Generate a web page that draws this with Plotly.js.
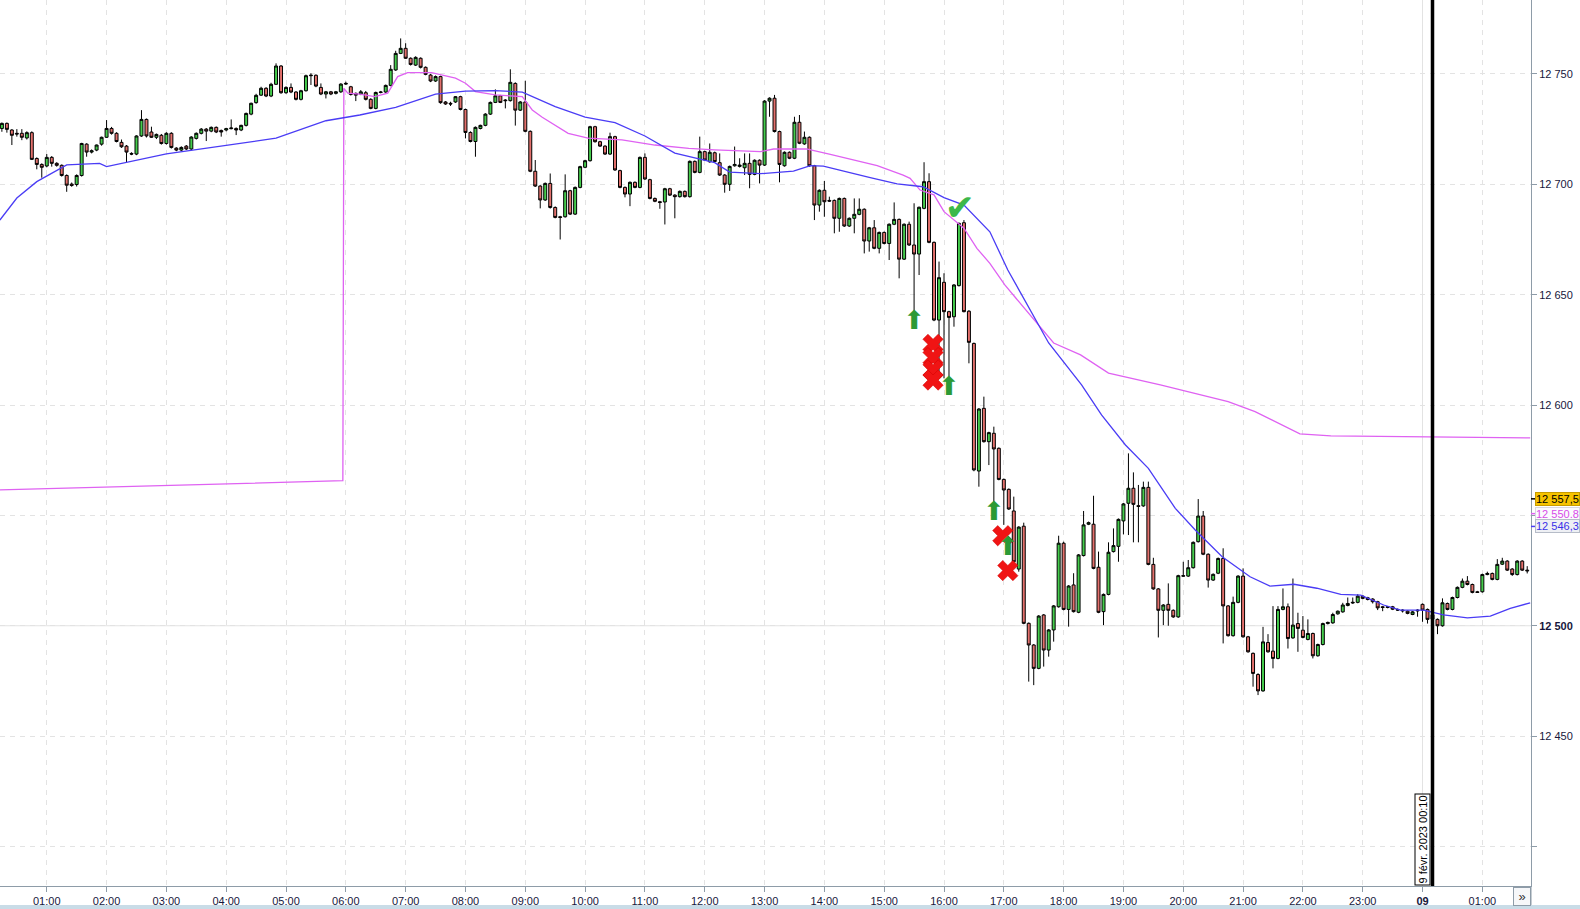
<!DOCTYPE html>
<html>
<head>
<meta charset="utf-8">
<script src="https://cdn.plot.ly/plotly-3.0.1.min.js"></script>
<style>
  html, body { margin: 0; padding: 0; background: #fff; }
  #chart { width: 1580px; height: 909px; }
</style>
</head>
<body>
<div id="chart"></div>
<script>
// 5-minute bars from 8 Feb 2023 00:15, one row per bar: [open, high, low, close]
const barStart = "2023-02-08T00:15:00Z";
const barStepMin = 5;
const bars = [
  // 00:15
  [12725.3,12728.0,12723.8,12727.6],[12727.6,12728.0,12723.4,12724.9],[12724.6,12725.0,12717.8,12722.2],
  [12723.1,12725.0,12721.6,12722.8],[12723.1,12725.0,12720.0,12721.3],[12721.0,12724.0,12720.3,12723.4],
  [12723.4,12724.0,12711.0,12711.3],[12711.7,12712.2,12706.8,12709.0],[12709.0,12709.5,12703.0,12707.7],
  [12708.3,12713.7,12707.7,12712.2],[12712.2,12712.8,12708.0,12709.5],[12709.5,12710.0,12708.0,12708.6],
  // 01:15
  [12708.6,12709.0,12703.5,12704.0],[12704.0,12704.5,12696.6,12699.6],[12700.1,12700.8,12698.9,12699.5],
  [12699.9,12704.5,12699.0,12704.0],[12704.0,12718.8,12703.5,12718.5],[12718.2,12718.6,12712.5,12714.6],
  [12714.6,12715.8,12714.0,12715.2],[12715.5,12718.0,12715.0,12717.8],[12718.2,12721.6,12717.5,12721.3],
  [12721.3,12729.1,12721.0,12725.3],[12725.3,12726.0,12722.5,12723.1],[12723.1,12723.6,12719.0,12719.4],
  // 02:15
  [12719.0,12720.3,12716.5,12717.0],[12717.3,12717.8,12709.9,12714.6],[12714.0,12714.5,12713.2,12713.7],
  [12713.7,12722.2,12713.2,12721.9],[12721.9,12733.6,12721.5,12729.4],[12729.4,12729.8,12721.2,12721.9],
  [12723.7,12726.1,12721.0,12721.3],[12721.3,12723.0,12720.5,12722.6],[12722.2,12722.8,12718.0,12718.5],
  [12718.5,12723.6,12718.0,12723.1],[12723.1,12723.6,12716.2,12716.7],[12716.4,12716.8,12715.0,12715.5],
  // 03:15
  [12715.5,12717.2,12715.0,12716.7],[12717.3,12717.8,12715.5,12716.0],[12716.0,12721.8,12715.5,12721.4],
  [12720.8,12723.5,12720.3,12723.1],[12723.1,12725.5,12722.6,12725.0],[12725.0,12725.5,12719.6,12724.1],
  [12724.1,12726.2,12723.6,12725.8],[12725.8,12726.2,12723.2,12723.7],[12724.4,12724.8,12721.6,12723.7],
  [12724.6,12725.6,12724.0,12725.2],[12725.2,12729.4,12724.9,12725.5],[12725.3,12725.8,12722.3,12724.6],
  // 04:15
  [12724.6,12727.0,12724.1,12726.7],[12726.7,12732.5,12726.2,12732.1],[12731.8,12737.0,12731.3,12736.7],
  [12737.0,12741.0,12736.5,12740.3],[12740.4,12744.2,12740.0,12743.5],[12743.5,12744.0,12739.5,12740.0],
  [12740.0,12746.0,12739.5,12745.3],[12745.3,12754.8,12745.0,12753.6],[12753.6,12754.0,12741.0,12741.5],
  [12741.5,12744.4,12741.0,12743.9],[12743.9,12745.7,12741.3,12741.8],[12741.8,12742.2,12738.0,12738.5],
  // 05:15
  [12738.5,12742.8,12738.0,12742.4],[12742.4,12749.7,12742.0,12749.2],[12749.2,12750.3,12745.0,12749.4],
  [12749.4,12749.8,12744.0,12744.5],[12743.9,12745.7,12740.4,12740.9],[12740.9,12742.3,12738.9,12741.9],
  [12741.9,12742.3,12740.4,12740.9],[12741.2,12742.3,12740.7,12741.9],[12741.9,12745.8,12741.4,12745.4],
  [12745.4,12746.5,12745.0,12745.7],[12744.2,12744.6,12740.2,12740.7],[12741.2,12741.6,12737.7,12740.4],
  // 06:15
  [12740.9,12742.7,12740.4,12741.9],[12741.5,12742.3,12738.0,12738.5],[12738.5,12739.0,12734.0,12734.4],
  [12734.4,12742.0,12734.0,12741.6],[12741.6,12742.3,12741.2,12741.8],[12741.8,12745.2,12741.4,12744.8],
  [12744.8,12754.0,12744.4,12752.1],[12751.8,12760.5,12751.4,12759.3],[12759.3,12766.1,12759.0,12761.6],
  [12761.6,12763.9,12756.8,12757.1],[12757.1,12757.5,12753.8,12754.3],[12754.0,12758.0,12753.6,12757.5],
  // 07:15
  [12757.1,12757.5,12752.5,12753.0],[12753.0,12753.4,12749.4,12749.8],[12749.5,12750.0,12746.3,12746.8],
  [12746.8,12749.3,12746.4,12748.8],[12748.8,12749.2,12736.5,12737.0],[12737.3,12737.7,12736.0,12736.4],
  [12736.7,12737.4,12735.5,12736.4],[12737.3,12740.0,12736.9,12739.7],[12739.7,12740.1,12733.5,12733.9],
  [12733.9,12734.3,12720.8,12723.5],[12723.5,12724.0,12719.0,12719.4],[12719.4,12726.2,12712.5,12725.8],
  // 08:15
  [12725.3,12727.0,12724.9,12726.7],[12726.7,12732.2,12726.3,12731.8],[12731.8,12737.5,12731.4,12737.1],
  [12737.1,12743.0,12736.8,12740.1],[12740.1,12740.5,12736.8,12737.1],[12738.2,12738.6,12734.4,12737.9],
  [12737.9,12752.1,12737.5,12746.2],[12745.7,12746.2,12726.6,12733.6],[12733.6,12737.7,12733.2,12737.3],
  [12737.3,12746.9,12723.6,12724.0],[12724.0,12724.4,12705.5,12705.9],[12705.9,12711.0,12698.8,12699.2],
  // 09:15
  [12699.2,12699.6,12689.1,12692.9],[12692.9,12700.8,12692.5,12700.4],[12700.4,12704.9,12689.0,12689.5],
  [12689.5,12690.0,12684.6,12685.0],[12685.3,12685.7,12675.0,12685.0],[12685.3,12704.5,12684.9,12697.1],
  [12697.1,12697.5,12686.1,12686.5],[12686.5,12699.0,12686.1,12698.6],[12698.6,12708.4,12698.2,12708.0],
  [12707.7,12711.1,12707.3,12710.7],[12710.7,12726.5,12710.3,12726.1],[12726.1,12726.5,12718.9,12719.3],
  // 10:15
  [12719.3,12719.7,12716.9,12717.3],[12717.3,12717.7,12713.3,12713.7],[12713.7,12723.4,12713.3,12721.6],
  [12721.6,12722.0,12706.1,12706.5],[12706.2,12706.6,12698.2,12698.6],[12698.6,12699.0,12694.1,12695.6],
  [12695.6,12701.3,12690.1,12700.9],[12700.9,12701.3,12698.2,12698.6],[12698.6,12712.6,12698.2,12712.2],
  [12712.2,12714.0,12702.0,12702.4],[12702.1,12702.5,12693.2,12693.6],[12693.6,12694.0,12691.9,12692.3],
  // 11:15
  [12692.1,12692.5,12688.9,12691.8],[12692.0,12698.4,12681.8,12698.0],[12698.0,12698.4,12694.7,12695.1],
  [12695.1,12695.5,12684.6,12694.4],[12694.4,12697.2,12694.0,12696.8],[12696.8,12697.2,12694.0,12694.4],
  [12694.4,12710.8,12694.0,12710.4],[12710.4,12710.8,12705.0,12705.4],[12705.4,12721.6,12705.0,12714.8],
  [12714.8,12715.2,12710.7,12711.0],[12710.2,12718.5,12709.8,12714.5],[12714.3,12714.8,12709.9,12710.3],
  // 12:15
  [12709.8,12714.0,12703.8,12704.2],[12704.2,12704.6,12696.2,12700.0],[12700.0,12708.5,12697.0,12708.1],
  [12708.4,12717.1,12708.0,12709.0],[12708.1,12711.8,12707.6,12708.7],[12707.5,12714.0,12704.2,12709.5],
  [12709.5,12714.0,12698.2,12704.5],[12704.5,12711.3,12704.1,12710.9],[12710.9,12711.3,12700.4,12708.7],
  [12708.7,12738.1,12708.3,12737.7],[12737.7,12739.4,12730.6,12739.0],[12739.0,12740.5,12723.5,12723.9],
  // 13:15
  [12723.9,12724.3,12700.9,12709.0],[12708.4,12714.9,12708.0,12714.5],[12714.5,12714.9,12711.4,12711.8],
  [12711.8,12730.6,12711.4,12728.1],[12728.1,12731.4,12718.2,12718.6],[12718.3,12723.9,12717.9,12721.3],
  [12721.3,12721.7,12708.0,12708.4],[12708.4,12708.8,12683.8,12690.6],[12690.6,12697.7,12687.6,12697.3],
  [12697.3,12701.5,12685.3,12692.1],[12692.7,12694.4,12692.0,12692.4],[12692.7,12693.1,12677.8,12684.6],
  // 14:15
  [12684.6,12694.0,12678.5,12693.6],[12693.6,12694.0,12680.7,12681.1],[12681.1,12685.0,12680.7,12684.6],
  [12684.6,12693.6,12677.8,12686.4],[12686.4,12693.6,12686.0,12688.7],[12688.7,12689.1,12668.7,12674.3],
  [12674.3,12680.7,12669.5,12680.3],[12680.3,12683.8,12670.6,12671.0],[12671.0,12678.6,12668.7,12678.2],
  [12678.2,12678.6,12672.8,12673.2],[12673.2,12682.3,12665.7,12681.9],[12681.9,12691.8,12681.5,12684.1],
  // 15:15
  [12684.1,12684.5,12657.4,12666.1],[12666.1,12682.3,12665.7,12681.9],[12681.9,12683.1,12672.1,12672.5],
  [12672.5,12691.4,12641.5,12668.4],[12668.4,12689.9,12658.9,12689.6],[12689.1,12710.0,12688.7,12701.2],
  [12701.2,12705.0,12673.3,12673.7],[12673.7,12674.1,12638.0,12638.5],[12638.5,12665.0,12615.1,12657.7],
  [12655.6,12659.7,12612.1,12642.3],[12642.3,12642.7,12612.8,12639.7],[12640.0,12654.8,12635.5,12654.4],
  // 16:15
  [12654.1,12682.7,12653.7,12682.3],[12682.6,12683.8,12642.0,12642.3],[12642.5,12643.0,12618.9,12628.4],
  [12627.9,12628.3,12570.0,12570.6],[12570.1,12598.6,12563.0,12598.2],[12598.5,12603.8,12583.0,12583.4],
  [12583.4,12587.9,12572.8,12587.5],[12587.2,12590.2,12555.5,12580.1],[12580.4,12580.8,12565.9,12566.3],
  [12566.3,12566.7,12545.7,12561.5],[12561.8,12562.2,12552.5,12552.9],[12552.0,12558.5,12528.6,12529.0],
  // 17:15
  [12525.7,12545.1,12524.5,12544.7],[12545.1,12546.7,12500.7,12501.1],[12501.1,12501.5,12474.7,12491.3],
  [12491.3,12491.7,12473.1,12480.7],[12480.7,12504.8,12480.3,12504.4],[12504.9,12505.3,12481.5,12489.0],
  [12489.0,12498.5,12486.0,12498.1],[12498.1,12509.4,12492.8,12509.0],[12508.6,12540.8,12508.2,12537.4],
  [12537.4,12538.1,12507.0,12507.4],[12507.4,12518.4,12499.6,12518.0],[12518.5,12523.8,12506.0,12506.4],
  // 18:15
  [12506.1,12532.5,12505.7,12532.1],[12531.8,12552.0,12531.4,12545.7],[12546.0,12547.2,12545.6,12546.7],
  [12546.0,12558.9,12525.6,12526.0],[12526.5,12533.6,12505.7,12506.1],[12506.4,12514.6,12500.3,12514.2],
  [12514.2,12537.8,12513.8,12533.3],[12533.6,12544.1,12533.2,12536.3],[12536.0,12548.6,12529.0,12548.2],
  [12547.5,12555.6,12541.4,12555.2],[12555.5,12578.1,12541.1,12562.3],[12562.3,12569.5,12537.8,12555.0],
  // 19:15
  [12554.4,12563.8,12537.8,12554.1],[12554.3,12565.3,12553.9,12562.7],[12562.7,12565.3,12527.4,12527.8],
  [12527.8,12530.8,12516.3,12516.7],[12516.7,12517.1,12494.7,12507.0],[12507.0,12509.8,12500.3,12509.4],
  [12509.7,12519.2,12500.0,12507.0],[12507.0,12507.4,12503.6,12504.0],[12504.0,12523.1,12503.6,12522.7],
  [12522.7,12529.0,12522.3,12522.5],[12522.5,12529.8,12522.1,12526.3],[12526.3,12538.2,12525.9,12537.8],
  // 20:15
  [12538.1,12557.4,12537.7,12549.7],[12549.7,12552.0,12532.0,12532.4],[12532.4,12532.8,12517.3,12520.7],
  [12520.7,12523.7,12520.3,12523.3],[12523.8,12530.9,12523.4,12530.5],[12530.5,12535.1,12492.0,12509.0],
  [12509.0,12509.4,12495.1,12495.5],[12495.5,12513.2,12495.1,12510.6],[12510.6,12522.9,12510.2,12522.5],
  [12522.5,12526.0,12494.6,12495.0],[12495.0,12495.4,12487.8,12488.2],[12487.5,12487.9,12472.4,12478.4],
  // 21:15
  [12477.9,12478.5,12468.6,12470.5],[12470.5,12499.5,12470.1,12492.7],[12492.4,12496.2,12487.8,12488.2],
  [12488.5,12508.9,12480.7,12485.2],[12485.2,12508.9,12484.8,12507.4],[12507.4,12516.9,12507.0,12508.6],
  [12508.6,12510.1,12489.7,12494.2],[12494.5,12521.4,12494.1,12500.3],[12501.0,12505.9,12488.2,12498.8],
  [12498.0,12504.4,12494.3,12494.7],[12493.8,12502.9,12493.4,12496.5],[12496.5,12496.9,12485.2,12486.4],
  // 22:15
  [12486.4,12491.9,12486.0,12491.5],[12491.5,12501.4,12491.1,12501.0],[12501.0,12501.9,12500.6,12501.5],
  [12501.3,12505.9,12500.9,12505.1],[12505.4,12506.9,12505.0,12506.6],[12506.3,12510.4,12505.9,12509.4],
  [12509.2,12512.8,12508.8,12510.1],[12510.3,12512.8,12509.9,12510.6],[12510.6,12514.3,12510.2,12513.4],
  [12513.4,12513.8,12512.0,12512.4],[12512.7,12513.1,12511.5,12511.9],[12512.1,12512.5,12510.1,12510.9],
  // 23:15
  [12510.9,12511.3,12507.1,12508.1],[12508.6,12509.0,12506.6,12508.3],[12508.3,12508.9,12507.9,12508.6],
  [12508.6,12509.0,12507.1,12507.5],[12507.4,12507.8,12506.7,12507.1],[12507.1,12507.5,12506.0,12506.8],
  [12506.6,12507.0,12505.2,12505.6],[12505.1,12506.7,12504.8,12506.3],[12507.1,12507.5,12504.1,12506.8],
  [12509.7,12510.1,12501.8,12507.1],[12507.4,12507.8,12501.0,12502.9],[12505.0,12505.4,12502.5,12503.0],
  // 00:15 (9 Feb)
  [12502.9,12503.3,12496.2,12500.0],[12500.0,12512.4,12499.6,12510.4],[12510.1,12510.5,12507.0,12507.4],
  [12507.4,12513.2,12507.0,12512.8],[12512.8,12517.8,12512.4,12517.4],[12517.4,12521.4,12517.0,12520.2],
  [12520.2,12522.5,12518.3,12518.7],[12518.7,12519.1,12514.7,12515.1],[12515.4,12515.8,12514.9,12515.1],
  [12515.4,12523.6,12515.0,12523.2],[12523.2,12524.5,12522.9,12523.7],[12523.7,12524.1,12520.6,12521.0],
  // 01:15
  [12521.0,12530.2,12520.6,12527.8],[12527.9,12530.8,12527.5,12529.3],[12529.3,12529.7,12524.8,12525.2],
  [12525.7,12526.1,12522.6,12523.2],[12523.2,12529.7,12522.8,12529.3],[12529.3,12529.7,12524.8,12525.2],
  [12525.2,12527.0,12523.7,12524.9]
];

// moving average (blue)
const maTimes = [
  "2023-02-08 00:13","2023-02-08 00:30","2023-02-08 00:50","2023-02-08 01:20","2023-02-08 01:53",
  "2023-02-08 02:00","2023-02-08 03:00","2023-02-08 04:00","2023-02-08 04:50","2023-02-08 05:40",
  "2023-02-08 06:14","2023-02-08 06:50","2023-02-08 07:30","2023-02-08 08:00","2023-02-08 08:30",
  "2023-02-08 08:57","2023-02-08 09:30","2023-02-08 10:00","2023-02-08 10:30","2023-02-08 11:00",
  "2023-02-08 11:30","2023-02-08 12:10","2023-02-08 12:25","2023-02-08 12:56","2023-02-08 13:29",
  "2023-02-08 13:46","2023-02-08 13:59","2023-02-08 14:46","2023-02-08 15:13","2023-02-08 15:39",
  "2023-02-08 16:00","2023-02-08 16:20","2023-02-08 16:46","2023-02-08 17:04","2023-02-08 17:45",
  "2023-02-08 18:18","2023-02-08 18:38","2023-02-08 19:02","2023-02-08 19:25","2023-02-08 19:52",
  "2023-02-08 20:12","2023-02-08 20:39","2023-02-08 21:07","2023-02-08 21:27","2023-02-08 21:51",
  "2023-02-08 22:14","2023-02-08 22:38","2023-02-08 22:58","2023-02-08 23:21","2023-02-08 23:38",
  "2023-02-09 00:01","2023-02-09 00:21","2023-02-09 00:45","2023-02-09 01:08","2023-02-09 01:28",
  "2023-02-09 01:48"
];
const maValues = [
  12683.8,12693.8,12701.2,12708.8,12709.5,
  12708.0,12713.8,12717.8,12720.9,12728.8,
  12731.4,12734.9,12740.9,12742.2,12742.4,
  12741.8,12735.2,12730.4,12727.9,12721.9,
  12714.1,12709.8,12705.5,12704.8,12706.0,
  12708.5,12708.2,12703.0,12700.2,12698.9,
  12694.0,12690.6,12678.5,12661.2,12628.1,
  12609.1,12595.5,12581.9,12571.3,12553.2,
  12543.4,12531.3,12522.2,12518.0,12518.8,
  12517.0,12514.2,12513.9,12509.4,12507.1,
  12507.1,12504.9,12503.6,12504.4,12507.9,
  12510.4
];

// session VWAP (magenta), resets at 06:00
const vwapTimes = [
  "2023-02-08 00:13","2023-02-08 05:57","2023-02-08 05:58","2023-02-08 06:02","2023-02-08 06:14",
  "2023-02-08 06:29","2023-02-08 06:42","2023-02-08 06:52","2023-02-08 07:02","2023-02-08 07:26",
  "2023-02-08 07:50","2023-02-08 08:00","2023-02-08 08:10","2023-02-08 08:30","2023-02-08 08:57",
  "2023-02-08 09:07","2023-02-08 09:17","2023-02-08 09:30","2023-02-08 09:43","2023-02-08 10:03",
  "2023-02-08 10:37","2023-02-08 11:10","2023-02-08 11:44","2023-02-08 12:10","2023-02-08 12:56",
  "2023-02-08 13:09","2023-02-08 13:42","2023-02-08 14:06","2023-02-08 14:53","2023-02-08 15:19",
  "2023-02-08 15:26","2023-02-08 15:36","2023-02-08 15:50","2023-02-08 16:00","2023-02-08 16:20",
  "2023-02-08 16:33","2023-02-08 16:46","2023-02-08 17:01","2023-02-08 17:50","2023-02-08 18:17",
  "2023-02-08 18:45","2023-02-08 19:37","2023-02-08 20:25","2023-02-08 20:45","2023-02-08 21:12",
  "2023-02-08 21:57","2023-02-08 22:28","2023-02-09 01:48"
];
const vwapValues = [
  12561.6,12565.7,12743.5,12741.3,12740.9,
  12739.7,12741.3,12748.8,12750.6,12750.6,
  12748.1,12745.8,12742.0,12740.5,12739.7,
  12733.7,12730.4,12726.9,12723.1,12720.9,
  12720.1,12717.8,12716.3,12715.6,12714.8,
  12716.0,12716.0,12713.6,12708.5,12704.2,
  12702.7,12697.4,12695.2,12687.6,12680.1,
  12671.0,12664.2,12654.4,12628.1,12622.7,
  12614.5,12609.1,12603.8,12601.5,12597.0,
  12586.9,12586.0,12585.1
];

// trade signals
const buyTimes  = ["2023-02-08 15:30","2023-02-08 16:05","2023-02-08 16:50","2023-02-08 17:04"];
const buyPrices = [12637.6, 12607.4, 12550.7, 12535.2];
const stopTimes  = ["2023-02-08 15:49","2023-02-08 15:49","2023-02-08 15:49","2023-02-08 15:49","2023-02-08 16:59","2023-02-08 17:04"];
const stopPrices = [12627.5, 12621.5, 12615.9, 12611.3, 12540.8, 12525.0];
const exitTimes  = ["2023-02-08 16:16"];
const exitPrices = [12687.8];

// axis ticks
const hourTicks = [
  "2023-02-08 01:00","2023-02-08 02:00","2023-02-08 03:00","2023-02-08 04:00","2023-02-08 05:00",
  "2023-02-08 06:00","2023-02-08 07:00","2023-02-08 08:00","2023-02-08 09:00","2023-02-08 10:00",
  "2023-02-08 11:00","2023-02-08 12:00","2023-02-08 13:00","2023-02-08 14:00","2023-02-08 15:00",
  "2023-02-08 16:00","2023-02-08 17:00","2023-02-08 18:00","2023-02-08 19:00","2023-02-08 20:00",
  "2023-02-08 21:00","2023-02-08 22:00","2023-02-08 23:00","2023-02-09 00:00","2023-02-09 01:00"
];
const hourLabels = [
  "01:00","02:00","03:00","04:00","05:00","06:00","07:00","08:00","09:00","10:00","11:00","12:00",
  "13:00","14:00","15:00","16:00","17:00","18:00","19:00","20:00","21:00","22:00","23:00","<b>09</b>","01:00"
];
const priceTicks  = [12400, 12450, 12500, 12550, 12600, 12650, 12700, 12750];
const priceLabels = ["", "12 450", "<b>12 500</b>", "", "12 600", "12 650", "12 700", "12 750"];

const lastPrice = 12557.5, lastVwap = 12550.8, lastMa = 12546.3;
const cursorTime = "2023-02-09 00:10";

// ---------------------------------------------------------------------------

function barTime(i) {
    const d = new Date(new Date(barStart).getTime() + i * barStepMin * 60000);
    return d.toISOString().slice(0, 16).replace("T", " ");
}

const axisColor = "#8e9ca8";
const textColor = "#17173c";
const gridColor = "#e3e3e3";

const candles = {
    type: "candlestick",
    x: bars.map((_, i) => barTime(i)),
    open:  bars.map(b => b[0]),
    high:  bars.map(b => b[1]),
    low:   bars.map(b => b[2]),
    close: bars.map(b => b[3]),
    increasing: { line: { color: "#000", width: 1 }, fillcolor: "#45cc4c" },
    decreasing: { line: { color: "#000", width: 1 }, fillcolor: "#e3706c" },
    whiskerwidth: 0,
    hoverinfo: "skip",
};

const maLine = {
    type: "scatter", mode: "lines",
    x: maTimes, y: maValues,
    line: { color: "#4a3cf5", width: 1.3 },
    hoverinfo: "skip",
};

const vwapLine = {
    type: "scatter", mode: "lines",
    x: vwapTimes, y: vwapValues,
    line: { color: "#df62f2", width: 1.3 },
    hoverinfo: "skip",
};

const stops = {
    type: "scatter", mode: "markers",
    x: stopTimes, y: stopPrices,
    marker: { symbol: "x", size: 18, color: "#f01414", line: { color: "#d00000", width: 0.5 } },
    hoverinfo: "skip",
};

// entry arrows and exit tick drawn as glyphs
const buys = {
    type: "scatter", mode: "text",
    x: buyTimes, y: buyPrices,
    text: buyTimes.map(() => "⬆"),
    textposition: "middle center",
    textfont: { family: "DejaVu Sans", size: 26, color: "#2c9a35" },
    hoverinfo: "skip",
};

const exits = {
    type: "scatter", mode: "text",
    x: exitTimes, y: exitPrices,
    text: exitPrices.map(() => "✔"),
    textposition: "middle center",
    textfont: { family: "DejaVu Sans", size: 36, color: "#3cb84a" },
    hoverinfo: "skip",
};

const badge = (y, text, color, bg, border) => ({
    xref: "paper", yref: "y", x: 1, y, xanchor: "left", xshift: 4,
    text, showarrow: false, align: "left",
    font: { family: "Liberation Sans, Arial, sans-serif", size: 11, color },
    bgcolor: bg, bordercolor: border, borderwidth: 1, borderpad: 0, width: 43,
});

const badgeTick = (y, color) => ({
    type: "line", xref: "paper", yref: "y", x0: 1, x1: 1.0035, y0: y, y1: y,
    line: { color, width: 1.5 },
});

const layout = {
    width: 1580, height: 909,
    margin: { l: 0, r: 49, t: 0, b: 23 },
    paper_bgcolor: "#fff", plot_bgcolor: "#fff",
    showlegend: false, hovermode: false,
    boxgap: 0.15,
    font: { family: "Liberation Sans, Arial, sans-serif", size: 11, color: textColor },
    xaxis: {
        type: "date",
        range: ["2023-02-08 00:13:06", "2023-02-09 01:48:48"],
        rangeslider: { visible: false },
        tickmode: "array", tickvals: hourTicks, ticktext: hourLabels,
        ticks: "outside", ticklen: 5, tickcolor: axisColor,
        showline: true, linecolor: axisColor, linewidth: 1,
        showgrid: true, gridcolor: gridColor, griddash: "5px,5px",
        zeroline: false, fixedrange: true,
        tickfont: { size: 11, color: textColor },
    },
    yaxis: {
        side: "right",
        range: [12382.1, 12783.5],
        tickmode: "array", tickvals: priceTicks, ticktext: priceLabels,
        ticks: "outside", ticklen: 5, tickcolor: axisColor,
        showline: true, linecolor: axisColor, linewidth: 1,
        showgrid: true, gridcolor: gridColor, griddash: "5px,5px",
        zeroline: false, fixedrange: true,
        tickfont: { size: 11, color: textColor },
    },
    shapes: [
        // day separator and round-number line
        { type: "line", xref: "x", yref: "paper", x0: "2023-02-09 00:00", x1: "2023-02-09 00:00", y0: 0, y1: 1,
          line: { color: "#e2e2e2", width: 1 }, layer: "below" },
        { type: "line", xref: "paper", yref: "y", x0: 0, x1: 1, y0: 12500, y1: 12500,
          line: { color: "#e2e2e2", width: 1 }, layer: "below" },
        // cursor line
        { type: "line", xref: "x", yref: "paper", x0: cursorTime, x1: cursorTime, y0: 0, y1: 1,
          line: { color: "#000", width: 3.5 } },
        // bottom strip and axis corner
        { type: "rect", xref: "paper", yref: "paper", x0: -0.01, x1: 1.04, y0: -0.0214, y1: -0.04,
          fillcolor: "#c9dce7", line: { width: 0 } },
        { type: "line", xref: "paper", yref: "paper", x0: 1, x1: 1, y0: 0, y1: -0.0214,
          line: { color: axisColor, width: 1 } },
        badgeTick(lastPrice, "#000"),
        badgeTick(lastVwap, "#df62f2"),
        badgeTick(lastMa - 1.3, "#4a3cf5"),
    ],
    annotations: [
        badge(lastPrice, "12 557,5", "#000", "#f6c300", "#c79c00"),
        badge(lastVwap, "12 550.8", "#d84ce8", "#fbfbfd", "#d8d8e0"),
        badge(lastMa - 1.3, "12 546,3", "#3a30e8", "#eef0f4", "#b6bcc8"),
        {
            xref: "x", yref: "paper", x: cursorTime, y: 0,
            xanchor: "right", yanchor: "bottom", xshift: -2,
            text: "9 févr. 2023 00:10", textangle: -90, showarrow: false,
            font: { size: 11, color: "#000" },
            bgcolor: "#fff", bordercolor: "#000", borderwidth: 1, borderpad: 1,
        },
        {
            xref: "paper", yref: "paper", x: 1, y: 0,
            xanchor: "right", yanchor: "top", yshift: -1,
            text: "»", showarrow: false, width: 14, height: 15,
            font: { size: 13, color: "#333" },
            bgcolor: "#f6f7f9", bordercolor: axisColor, borderwidth: 1,
        },
    ],
};

Plotly.newPlot("chart", [candles, vwapLine, maLine, stops, buys, exits], layout,
    { staticPlot: true, displayModeBar: false });
</script>
</body>
</html>
